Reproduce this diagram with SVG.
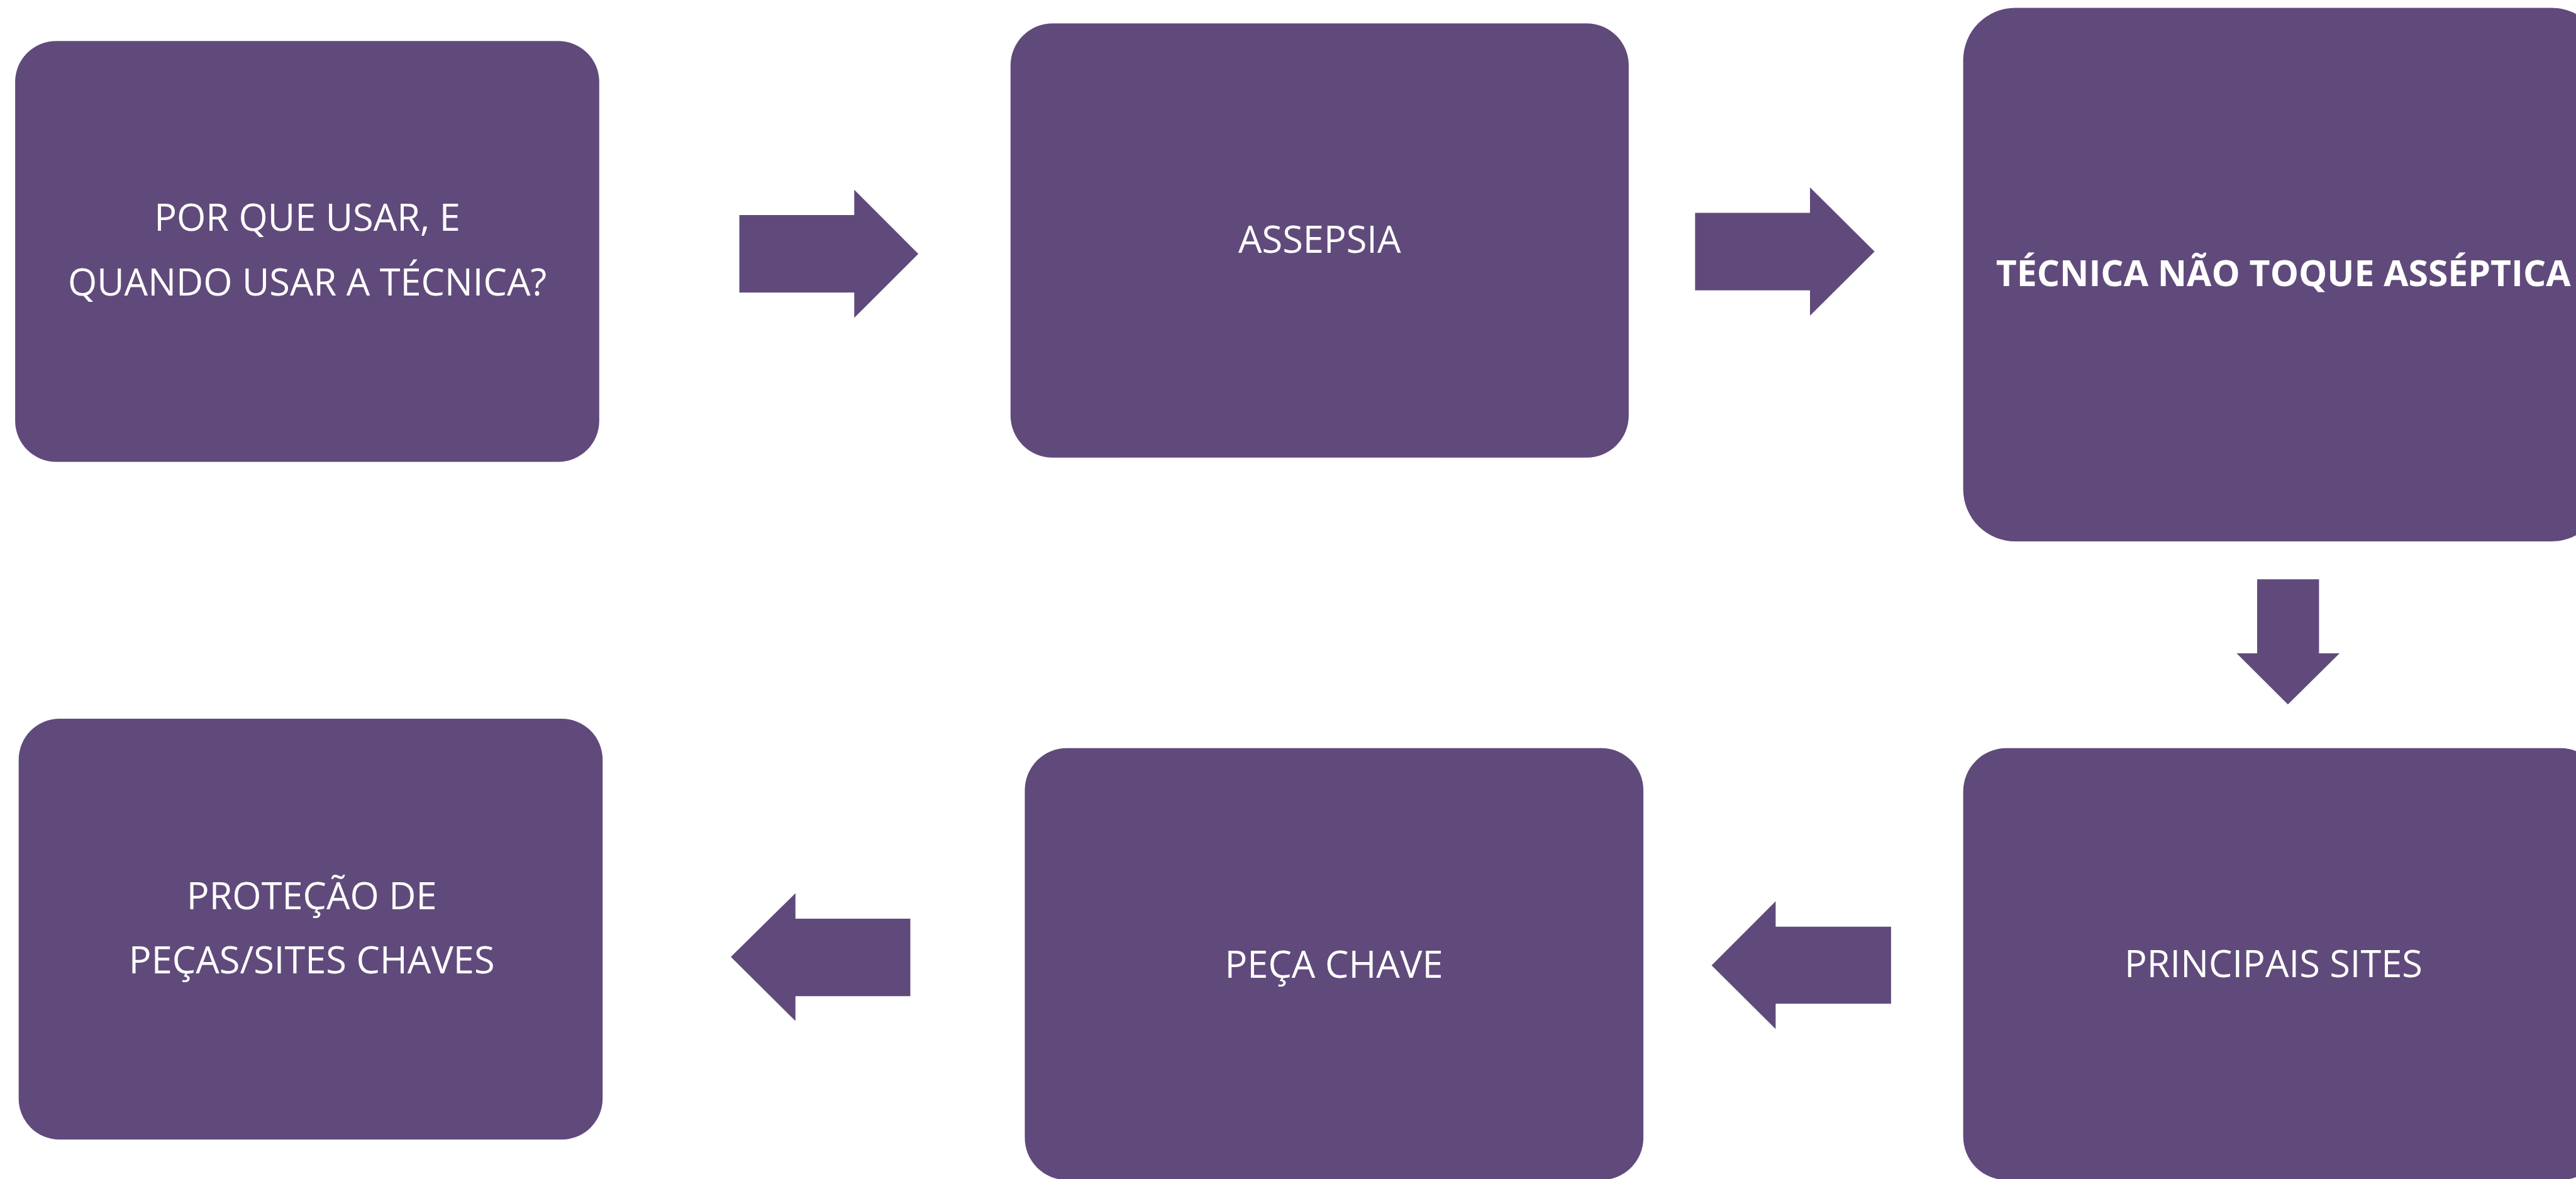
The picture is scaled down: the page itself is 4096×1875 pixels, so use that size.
<svg xmlns="http://www.w3.org/2000/svg" width="4096" height="1875" viewBox="0 0 4096 1875">
  <style>
    .box { fill: #604A7B; }
    .arrow { fill: #604A7B; }
    .lbl { font-family: "Open Sans", "Noto Sans", "Liberation Sans", sans-serif; font-size: 59.5px; fill: #FFFFFF; text-anchor: middle; }
    .bold { font-weight: bold; font-size: 57px; }
  </style>
  <rect width="4096" height="1875" fill="#FFFFFF"/>
  <g id="connectors">
    <polygon class="arrow" points="1175.6,342 1358.3,342 1358.3,301.7 1460.2,403.7 1358.3,505.6 1358.3,465.3 1175.6,465.3"/>
    <polygon class="arrow" points="2695.3,338.5 2878,338.5 2878,298.1 2980.7,400.1 2878,502.1 2878,461.7 2695.3,461.7"/>
    <polygon class="arrow" points="3589,921.3 3687.4,921.3 3687.4,1038.9 3720.1,1038.9 3637.9,1120.3 3556.4,1038.9 3589,1038.9"/>
    <polygon class="arrow" points="3006.9,1473.7 2823.4,1473.7 2823.4,1433.3 2721.5,1535.3 2823.4,1636.6 2823.4,1596.3 3006.9,1596.3"/>
    <polygon class="arrow" points="1447.5,1461 1264.8,1461 1264.8,1420.6 1162.1,1521.8 1264.8,1623.8 1264.8,1584.2 1447.5,1584.2"/>
  </g>
  <g id="node-porque">
    <rect class="box" x="24.1" y="65.2" width="928.7" height="669.2" rx="65" ry="65"/>
    <text class="lbl" x="488.6" y="367">POR QUE USAR, E</text>
    <text class="lbl" x="488.6" y="469.7">QUANDO USAR A TÉCNICA?</text>
  </g>
  <g id="node-assepsia">
    <rect class="box" x="1606.8" y="37.2" width="983" height="690.6" rx="67" ry="67"/>
    <text class="lbl" x="2098.3" y="401.7">ASSEPSIA</text>
  </g>
  <g id="node-tecnica">
    <rect class="box" x="3121.6" y="12.4" width="1018.4" height="848.7" rx="83" ry="83"/>
    <text class="lbl bold" x="3630.7" y="455">TÉCNICA NÃO TOQUE ASSÉPTICA</text>
  </g>
  <g id="node-principais">
    <rect class="box" x="3121.6" y="1189.7" width="1018.4" height="686.9" rx="69" ry="69"/>
    <text class="lbl" x="3615" y="1554">PRINCIPAIS SITES</text>
  </g>
  <g id="node-peca">
    <rect class="box" x="1629.5" y="1189.7" width="983.6" height="686.9" rx="67" ry="67"/>
    <text class="lbl" x="2121" y="1554.6">PEÇA CHAVE</text>
  </g>
  <g id="node-protecao">
    <rect class="box" x="29.7" y="1143" width="928.5" height="669.2" rx="65" ry="65"/>
    <text class="lbl" x="495.7" y="1445.6">PROTEÇÃO DE</text>
    <text class="lbl" x="495.7" y="1547.6">PEÇAS/SITES CHAVES</text>
  </g>
</svg>
